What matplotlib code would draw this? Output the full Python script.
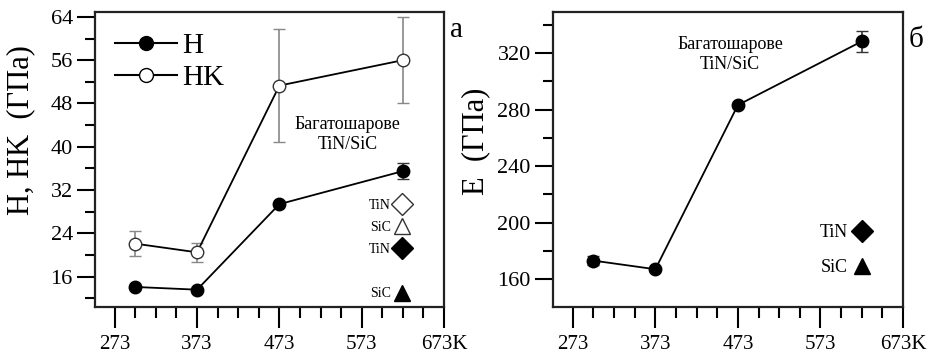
import matplotlib
matplotlib.use("Agg")
import matplotlib.pyplot as plt
from matplotlib.lines import Line2D
from matplotlib.ticker import FixedLocator, MultipleLocator

plt.rcParams['font.family'] = ['Liberation Serif', 'DejaVu Serif']

# data
temp = [298, 373, 473, 623]
h_vals = [14.1, 13.6, 29.4, 35.5]
h_err = [0.4, 0.4, 0.4, 1.5]
hk_vals = [22.1, 20.5, 51.3, 56.0]
hk_err = [2.3, 1.7, 10.5, 8.0]
e_vals = [173.2, 167.1, 283.2, 328.2]
e_err = [3.0, 1.5, 1.5, 7.4]

x_major = [273, 373, 473, 573, 673]
x_labels = ['273', '373', '473', '573', '673K']
note = 'Багатошарове\nTiN/SiC'

fig = plt.figure(figsize=(9.37, 3.53), dpi=100)
ax1 = fig.add_axes([95 / 937, 46 / 353, 349 / 937, 295 / 353])
ax2 = fig.add_axes([553 / 937, 46 / 353, 350 / 937, 295 / 353])


def style_axes(ax):
    for sp in ax.spines.values():
        sp.set_linewidth(1.6)
        sp.set_color('#222222')
    ax.set_xlim(249, 673)
    ax.xaxis.set_major_locator(FixedLocator(x_major))
    ax.xaxis.set_minor_locator(FixedLocator(list(range(248, 673, 25))))
    ax.set_xticklabels(x_labels)
    ax.tick_params(which='both', direction='out', width=1.5,
                   top=False, right=False)
    ax.tick_params(axis='x', which='major', length=15, labelsize=15, pad=5)
    ax.tick_params(axis='x', which='minor', length=8)
    ax.tick_params(axis='y', which='major', length=13, labelsize=16, pad=3)
    ax.tick_params(axis='y', which='minor', length=7)


style_axes(ax1)
ax1.set_ylim(10.4, 64.9)
ax1.set_yticks([16, 24, 32, 40, 48, 56, 64])
ax1.yaxis.set_minor_locator(MultipleLocator(4))
ax1.set_ylabel('H, HK  (ГПа)', fontsize=22)
ax1.yaxis.set_label_coords(-0.17, 0.6)

ax1.errorbar(temp, hk_vals, yerr=hk_err, color='black', ecolor='#888888',
             marker='o', markersize=9, markerfacecolor='white',
             markeredgecolor='#333333', capsize=4, lw=1.3, elinewidth=1.2)
ax1.errorbar(temp, h_vals, yerr=h_err, color='black', ecolor='#333333',
             marker='o', markersize=9, markerfacecolor='black',
             capsize=4, lw=1.3, elinewidth=1.2)

leg_handles = [
    Line2D([], [], color='black', lw=1.5, marker='o', markersize=10,
           markerfacecolor='black'),
    Line2D([], [], color='black', lw=1.5, marker='o', markersize=10,
           markerfacecolor='white'),
]
leg1 = ax1.legend(leg_handles, ['H', 'HK'], loc='upper left', frameon=False,
                  fontsize=21, handlelength=2.1, handletextpad=0.2,
                  labelspacing=0.2, borderaxespad=0.3,
                  bbox_to_anchor=(0.0, 1.0))
ax1.add_artist(leg1)

ax1.text(0.724, 0.585, note, transform=ax1.transAxes, ha='center',
         va='center', fontsize=13, linespacing=1.25)

sym_handles = [
    Line2D([], [], ls='none', marker='D', markersize=11,
           markerfacecolor='white', markeredgecolor='#333333'),
    Line2D([], [], ls='none', marker='^', markersize=12,
           markerfacecolor='white', markeredgecolor='#333333'),
    Line2D([], [], ls='none', marker='D', markersize=11,
           markerfacecolor='black', markeredgecolor='black'),
    Line2D([], [], ls='none', marker='none'),
    Line2D([], [], ls='none', marker='^', markersize=12,
           markerfacecolor='black', markeredgecolor='black'),
]
ax1.legend(sym_handles, ['TiN', 'SiC', 'TiN', '', 'SiC'], loc='lower right',
           frameon=False, fontsize=10, markerfirst=False, handlelength=1.0,
           handletextpad=0.3, labelspacing=0.65,
           bbox_to_anchor=(0.935, -0.02))

fig.text(457 / 937, 1 - 30 / 353, 'а', fontsize=21, ha='center', va='center')

style_axes(ax2)
ax2.set_ylim(140.4, 349)
ax2.set_yticks([160, 200, 240, 280, 320])
ax2.yaxis.set_minor_locator(MultipleLocator(20))
ax2.set_ylabel('E  (ГПа)', fontsize=22)
ax2.yaxis.set_label_coords(-0.18, 0.56)

ax2.errorbar(temp, e_vals, yerr=e_err, color='black', ecolor='#333333',
             marker='o', markersize=9, markerfacecolor='black',
             capsize=4, lw=1.3, elinewidth=1.2)

ax2.text(0.506, 0.855, note, transform=ax2.transAxes, ha='center',
         va='center', fontsize=13, linespacing=1.25)

sym2 = [
    Line2D([], [], ls='none', marker='D', markersize=11,
           markerfacecolor='black', markeredgecolor='black'),
    Line2D([], [], ls='none', marker='^', markersize=12,
           markerfacecolor='black', markeredgecolor='black'),
]
ax2.legend(sym2, ['TiN', 'SiC'], loc='lower right', frameon=False,
           fontsize=13, markerfirst=False, handlelength=1.0,
           handletextpad=0.3, labelspacing=1.0,
           bbox_to_anchor=(0.955, 0.05))

fig.text(916 / 937, 1 - 40 / 353, 'б', fontsize=21, ha='center', va='center')

fig.savefig('out.png', dpi=100)
